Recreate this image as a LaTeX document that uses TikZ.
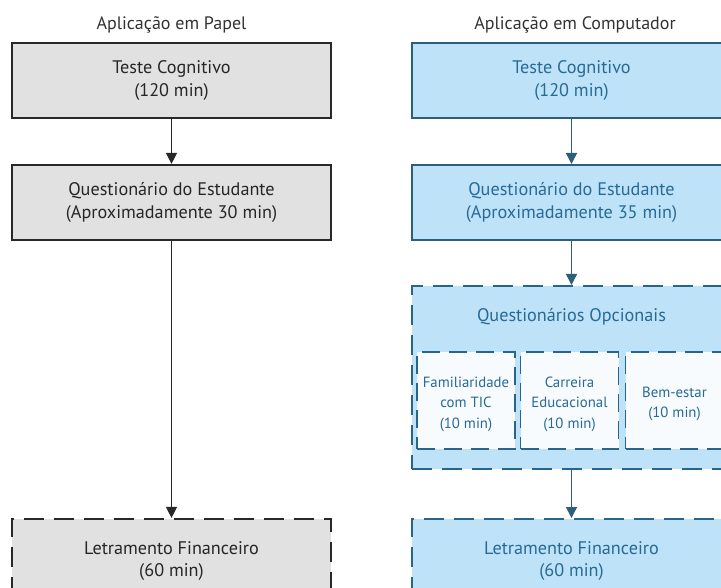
\documentclass[tikz,border=0pt]{standalone}
\usepackage{fontspec}
\setmainfont{PT Sans}
\usetikzlibrary{arrows.meta}
\definecolor{grayfill}{RGB}{225,225,225}
\definecolor{grayline}{RGB}{40,40,40}
\definecolor{bluefill}{RGB}{190,227,248}
\definecolor{blueline}{RGB}{45,95,125}
\definecolor{bluedash}{RGB}{40,100,140}
\definecolor{bluetext}{RGB}{40,105,150}
\definecolor{innerfill}{RGB}{247,251,254}
\definecolor{titletext}{RGB}{50,50,50}
\tikzset{
  x=1pt, y=-1pt,
  txt/.style={font=\fontsize{18.2}{22.5}\selectfont, align=center},
  graybox/.style={txt, rectangle, draw=grayline, fill=grayfill, line width=2.2pt,
    minimum width=319pt, minimum height=75pt, inner sep=0pt, text=black!85},
  grayboxdash/.style={graybox, dash pattern=on 20pt off 10pt},
  bluebox/.style={txt, rectangle, draw=blueline, fill=bluefill, line width=2pt,
    minimum width=319pt, minimum height=75pt, inner sep=0pt, text=bluetext},
  blueboxdash/.style={bluebox, draw=bluedash, dash pattern=on 20pt off 10pt},
  innerbox/.style={rectangle, draw=bluedash,
    fill=innerfill, line width=1.8pt, dash pattern=on 18pt off 9pt,
    minimum width=98pt, minimum height=97pt, inner sep=0pt},
  innertxt/.style={font=\fontsize{14.8}{20.5}\selectfont, align=center, text=bluetext, inner sep=0pt},
  title/.style={font=\fontsize{18}{20}\selectfont, text=titletext},
  grayarrow/.style={-{Triangle[width=11pt,length=11pt]}, line width=1.4pt, draw=grayline, fill=grayline},
  bluearrow/.style={-{Triangle[width=11pt,length=11pt]}, line width=1.4pt, draw=blueline, fill=blueline},
}
\begin{document}
\begin{tikzpicture}
\useasboundingbox (0,0) rectangle (721,588);
\begin{scope}
\clip (0,0) rectangle (721,588);
% titles
\node[title] (t1) at (171.5,25) {Aplicação em Papel};
\node[title] (t2) at (575,25) {Aplicação em Computador};
% left column
\node[graybox] (l1) at (171.5,80.5) {Teste Cognitivo\\(120 min)};
\node[graybox] (l2) at (171.5,202.5) {Questionário do Estudante\\(Aproximadamente 30 min)};
\node[grayboxdash, minimum height=84pt] (l3) at (171.5,561) {Letramento Financeiro\\(60 min)};
% right column
\node[bluebox] (r1) at (571.5,80.5) {Teste Cognitivo\\(120 min)};
\node[bluebox] (r2) at (571.5,202.5) {Questionário do Estudante\\(Aproximadamente 35 min)};
\node[blueboxdash, minimum height=183pt] (r3) at (571.5,377.5) {};
\node[txt, text=bluetext] (r3t) at (571.5,317) {Questionários Opcionais};
\node[innerbox] (o1) at (466,400.5) {};
\node[innerbox] (o2) at (569.5,400.5) {};
\node[innerbox] (o3) at (674.5,400.5) {};
\node[innertxt] (o1t) at (466,404) {Familiaridade\\com TIC\\(10 min)};
\node[innertxt] (o2t) at (569.5,404) {Carreira\\Educacional\\(10 min)};
\node[innertxt] (o3t) at (674.5,404) {Bem-estar\\(10 min)};
\node[blueboxdash, minimum height=84pt] (r4) at (571.5,561) {Letramento Financeiro\\(60 min)};
% arrows
\draw[grayarrow] (l1.south) -- (l2.north);
\draw[grayarrow] (l2.south) -- (l3.north);
\draw[bluearrow] (r1.south) -- (r2.north);
\draw[bluearrow] (r2.south) -- (r3.north);
\draw[bluearrow] (r3.south) -- (r4.north);
\end{scope}
\end{tikzpicture}
\end{document}
